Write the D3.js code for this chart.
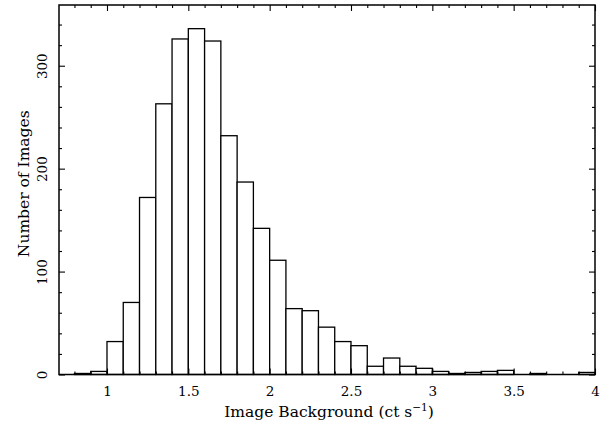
<!DOCTYPE html>
<html>
<head>
<meta charset="utf-8">
<script src="https://cdn.jsdelivr.net/npm/d3@7"></script>
<style>
  html, body { margin: 0; padding: 0; background: #fff; }
  svg { display: block; }
  text { font-family: "DejaVu Serif", "Liberation Serif", serif; fill: #000; }
</style>
</head>
<body>
<svg id="chart" width="600" height="431"></svg>
<script>
// Histogram of image background rates, bins of 0.1 ct/s starting at 0.8
const binStarts = [0.8, 0.9, 1.0, 1.1, 1.2, 1.3, 1.4, 1.5, 1.6, 1.7, 1.8, 1.9,
                   2.0, 2.1, 2.2, 2.3, 2.4, 2.5, 2.6, 2.7, 2.8, 2.9,
                   3.0, 3.1, 3.2, 3.3, 3.4, 3.5, 3.6, 3.7, 3.8, 3.9];
const counts = [1, 3, 32, 70, 172, 263, 326, 336, 324, 232, 187, 142,
                111, 64, 62, 46, 32, 28, 8, 16, 8, 6,
                3, 1, 2, 3, 4, 0, 1, 0, 0, 2];
const binWidth = 0.1;

const xMajorTicks = [1, 1.5, 2, 2.5, 3, 3.5, 4];
const xMajorLabels = ["1", "1.5", "2", "2.5", "3", "3.5", "4"];
const yMajorTicks = [0, 100, 200, 300];
const yMajorLabels = ["0", "100", "200", "300"];

const xTitle = "Image Background (ct s";
const yTitle = "Number of Images";

const svg = d3.select("#chart");
const plotLeft = 59, plotRight = 595, plotTop = 5, plotBottom = 374.5;

const x = d3.scaleLinear().domain([0.705, 4]).range([plotLeft, plotRight]);
const y = d3.scaleLinear().domain([0, 359]).range([plotBottom, plotTop]);

// minor tick positions
const xMinor = d3.range(8, 41).map(d => d / 10).filter(d => !xMajorTicks.includes(d));
const yMinor = d3.range(0, 359, 20).filter(d => d % 100 !== 0);

// bars
const bins = binStarts.map((s, i) => ({ x0: s, x1: s + binWidth, n: counts[i] }));
svg.append("g")
  .selectAll("rect")
  .data(bins)
  .join("rect")
  .attr("x", d => x(d.x0))
  .attr("width", d => x(d.x1) - x(d.x0))
  .attr("y", d => y(d.n))
  .attr("height", d => y(0) - y(d.n))
  .attr("fill", "#fff")
  .attr("stroke", "#000")
  .attr("stroke-width", 1.3);

function styleAxis(g) {
  g.select(".domain").remove();
  g.selectAll(".tick line").attr("stroke", "#000").attr("stroke-width", 1.1);
}

// bottom axis: labelled majors, inward ticks
svg.append("g")
  .attr("transform", `translate(0,${plotBottom})`)
  .call(d3.axisBottom(x).tickValues(xMajorTicks)
    .tickFormat((d, i) => xMajorLabels[i]).tickSizeInner(-6).tickSizeOuter(0))
  .call(styleAxis)
  .call(g => g.selectAll(".tick text")
    .attr("y", 12).attr("dy", "0.71em").attr("font-size", 13.5));
svg.append("g")
  .attr("transform", `translate(0,${plotBottom})`)
  .call(d3.axisBottom(x).tickValues(xMinor).tickFormat("").tickSizeInner(-3).tickSizeOuter(0))
  .call(styleAxis);

// top axis
svg.append("g")
  .attr("transform", `translate(0,${plotTop})`)
  .call(d3.axisTop(x).tickValues(xMajorTicks).tickFormat("").tickSizeInner(-6).tickSizeOuter(0))
  .call(styleAxis);
svg.append("g")
  .attr("transform", `translate(0,${plotTop})`)
  .call(d3.axisTop(x).tickValues(xMinor).tickFormat("").tickSizeInner(-3).tickSizeOuter(0))
  .call(styleAxis);

// left axis, labels turned to read upward
svg.append("g")
  .attr("transform", `translate(${plotLeft},0)`)
  .call(d3.axisLeft(y).tickValues(yMajorTicks)
    .tickFormat((d, i) => yMajorLabels[i]).tickSizeInner(-6).tickSizeOuter(0))
  .call(styleAxis)
  .call(g => g.selectAll(".tick text")
    .attr("transform", "rotate(-90)")
    .attr("x", 0).attr("y", -12).attr("dy", 0)
    .attr("text-anchor", "middle").attr("font-size", 13.5));
svg.append("g")
  .attr("transform", `translate(${plotLeft},0)`)
  .call(d3.axisLeft(y).tickValues(yMinor).tickFormat("").tickSizeInner(-3).tickSizeOuter(0))
  .call(styleAxis);

// right axis
svg.append("g")
  .attr("transform", `translate(${plotRight},0)`)
  .call(d3.axisRight(y).tickValues(yMajorTicks).tickFormat("").tickSizeInner(-6).tickSizeOuter(0))
  .call(styleAxis);
svg.append("g")
  .attr("transform", `translate(${plotRight},0)`)
  .call(d3.axisRight(y).tickValues(yMinor).tickFormat("").tickSizeInner(-3).tickSizeOuter(0))
  .call(styleAxis);

// frame
svg.append("rect")
  .attr("x", plotLeft).attr("y", plotTop)
  .attr("width", plotRight - plotLeft).attr("height", plotBottom - plotTop)
  .attr("fill", "none").attr("stroke", "#000").attr("stroke-width", 1.5);

// axis titles
const xt = svg.append("text")
  .attr("x", (plotLeft + plotRight) / 2 + 2).attr("y", 417)
  .attr("text-anchor", "middle").attr("font-size", 15.5);
xt.append("tspan").text(xTitle);
xt.append("tspan").attr("dy", -6).attr("font-size", 10.5).text("\u22121");
xt.append("tspan").attr("dy", 6).text(")");

svg.append("text")
  .attr("transform", `translate(29,${(plotTop + plotBottom) / 2 - 6}) rotate(-90)`)
  .attr("text-anchor", "middle").attr("font-size", 15.5)
  .text(yTitle);
</script>
</body>
</html>
